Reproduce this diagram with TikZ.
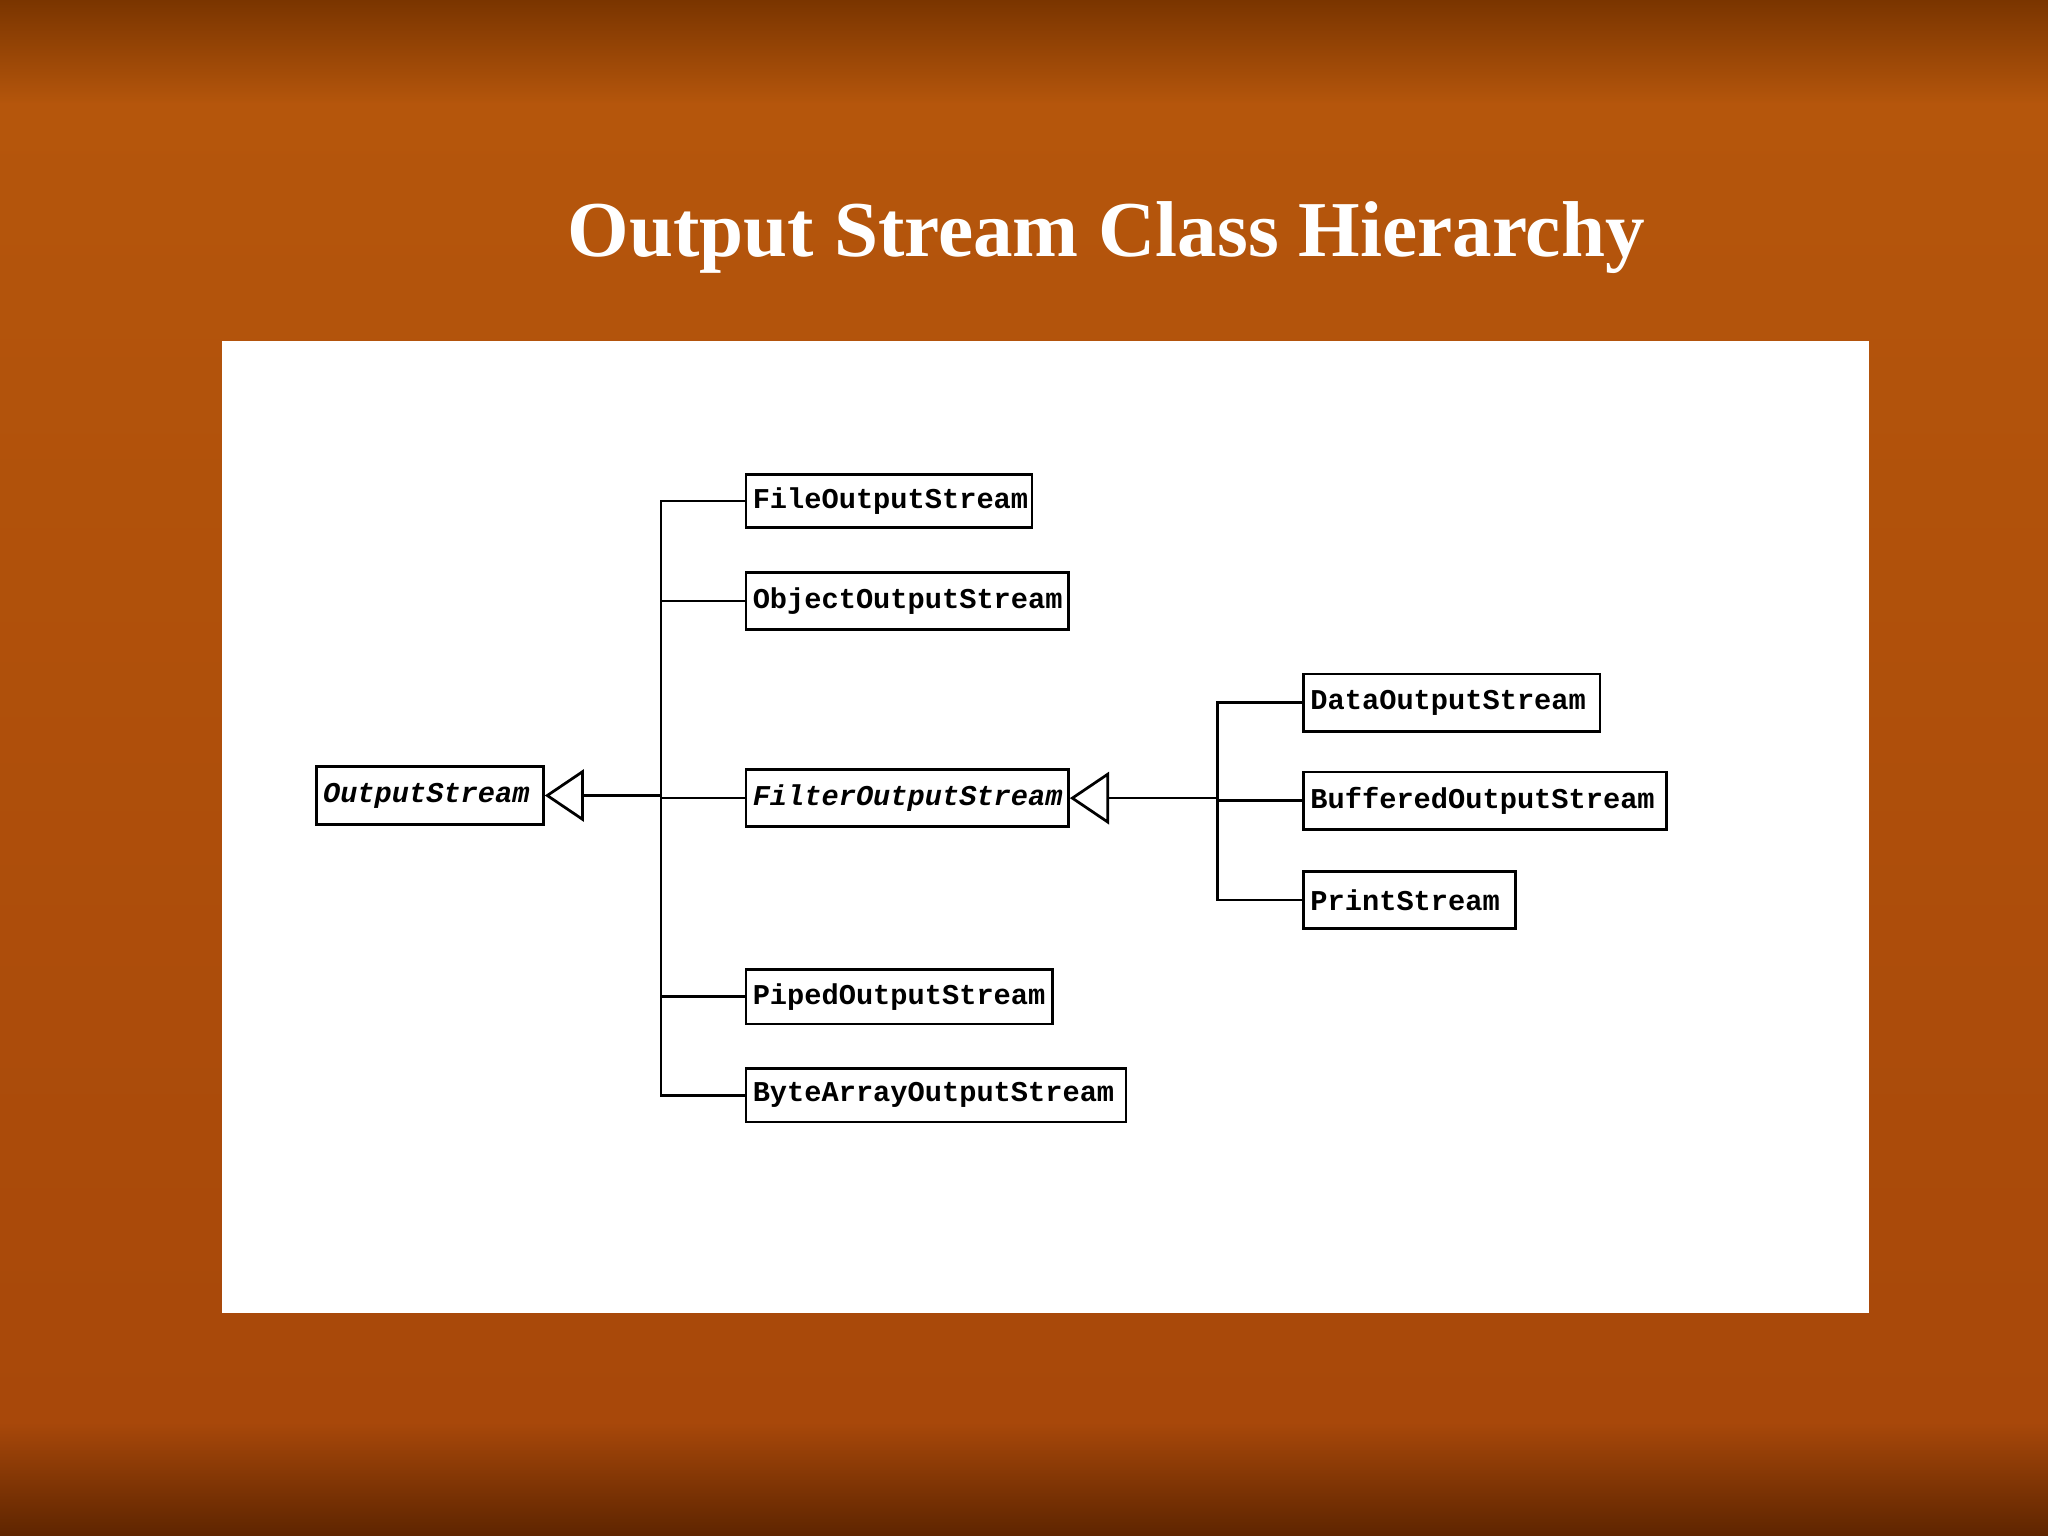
\documentclass[tikz,border=0pt]{standalone}
\usepackage{fontspec}
\setmainfont{Liberation Serif}
\setmonofont{Liberation Mono}
\usetikzlibrary{arrows.meta}
\definecolor{bgdark}{HTML}{5E2500}
\definecolor{bgtop}{HTML}{7A3500}
\definecolor{bgor}{HTML}{B5560C}
\definecolor{bgmid}{HTML}{A8480A}
\begin{document}
\begin{tikzpicture}[x=0.02cm,y=-0.02cm,
  cls/.style={draw=black,line width=1.2pt,fill=white,inner ysep=0pt,inner xsep=3pt,font=\ttfamily\bfseries\fontsize{12.5}{14}\selectfont,anchor=north west,align=left},
  ln/.style={line width=1.2pt},
  inh/.style={ln,-{Triangle[open,fill=white,length=0.6cm,width=0.8cm,line width=1.2pt]}}]
\useasboundingbox (0,0) rectangle (1568,1176);
\shade[top color=bgtop,bottom color=bgor] (0,0) rectangle (1568,80);
\shade[top color=bgor,bottom color=bgmid] (0,79) rectangle (1568,1090);
\shade[top color=bgmid,bottom color=bgdark] (0,1089) rectangle (1568,1176);
\node[text=white,font=\bfseries\fontsize{34.5}{40}\selectfont] (title) at (847,182) {Output Stream Class Hierarchy};
\fill[white] (170,261) rectangle (1431,1005);
\newcommand\cbox[6]{\node[cls,text width={(#4-#2)*0.02cm-6pt},minimum height={(#5-#3)*0.02cm}] (#1) at (#2,#3) {#6};}
\cbox{os}{241}{586}{415}{630}{\itshape OutputStream}
\cbox{fos}{570}{362}{789}{403}{FileOutputStream}
\cbox{oos}{570}{437}{817}{481}{ObjectOutputStream}
\cbox{fil}{570}{588}{817}{632}{\itshape FilterOutputStream}
\cbox{pos}{570}{741}{805}{783}{PipedOutputStream}
\cbox{bos}{570}{817}{861}{858}{ByteArrayOutputStream}
\cbox{dos}{997}{515}{1224}{559}{DataOutputStream}
\cbox{buf}{997}{590}{1275}{634}{BufferedOutputStream}
\cbox{ps}{997}{666}{1159}{710}{PrintStream}
\coordinate (j1) at (os.east -| 506,0);
\coordinate (j2) at (fil.east -| 932,0);
\draw[ln] (fos.west) -| (j1);
\draw[ln] (bos.west) -| (j1);
\draw[ln] (oos.west) -- (oos.west -| j1);
\draw[ln] (pos.west) -- (pos.west -| j1);
\draw[ln] (fil.west) -- (fil.west -| j1);
\draw[inh] (j1) -- (os.east);
\draw[ln] (dos.west) -| (j2);
\draw[ln] (ps.west) -| (j2);
\draw[ln] (buf.west) -- (buf.west -| j2);
\draw[inh] (j2) -- (fil.east);
\end{tikzpicture}
\end{document}
